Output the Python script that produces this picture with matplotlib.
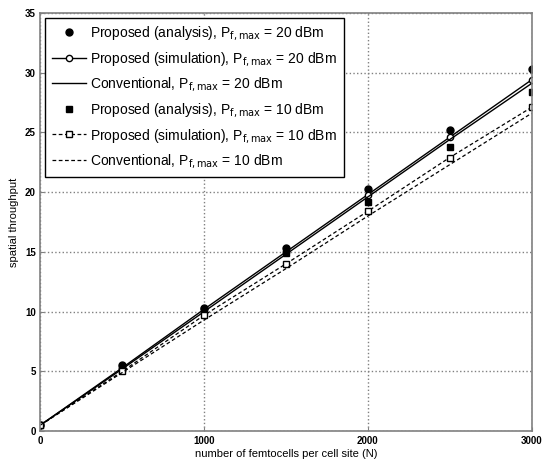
import matplotlib.pyplot as plt
import numpy as np

# number of femtocells per cell site
N = [0, 500, 1000, 1500, 2000, 2500, 3000]

# spatial throughput, P_f,max = 20 dBm
ana20 = [0.5, 5.5, 10.3, 15.3, 20.3, 25.2, 30.3]
sim20 = [0.5, 5.3, 10.2, 15.0, 19.8, 24.6, 29.4]
conv20 = [0.5, 5.2, 10.0, 14.8, 19.6, 24.4, 29.1]

# spatial throughput, P_f,max = 10 dBm
ana10 = [0.5, 5.3, 10.1, 14.9, 19.2, 23.8, 28.4]
sim10 = [0.5, 5.0, 9.7, 14.0, 18.4, 22.9, 27.1]
conv10 = [0.5, 4.9, 9.3, 13.6, 18.0, 22.3, 26.6]

plt.rcParams['font.family'] = ['Liberation Sans', 'DejaVu Sans']

fig = plt.figure(figsize=(5.42, 4.67), dpi=100)
ax = fig.add_axes([0.0747, 0.0771, 0.906, 0.895])

ax.plot(N, ana20, linestyle="none", marker="o", color="black", markersize=5,
        label=r"Proposed (analysis), P$_{\rm f,max}$ = 20 dBm")
ax.plot(N, sim20, linestyle="-", marker="o", color="black", markersize=4.5,
        markerfacecolor="white", linewidth=1.0,
        label=r"Proposed (simulation), P$_{\rm f,max}$ = 20 dBm")
ax.plot(N, conv20, linestyle="-", color="black", linewidth=1.0,
        label=r"Conventional, P$_{\rm f,max}$ = 20 dBm")
ax.plot(N, ana10, linestyle="none", marker="s", color="black", markersize=4.5,
        label=r"Proposed (analysis), P$_{\rm f,max}$ = 10 dBm")
ax.plot(N, sim10, linestyle="--", marker="s", color="black", markersize=4.5,
        markerfacecolor="white", linewidth=0.9, dashes=(3, 2),
        label=r"Proposed (simulation), P$_{\rm f,max}$ = 10 dBm")
ax.plot(N, conv10, linestyle="--", color="black", linewidth=0.9, dashes=(3, 2),
        label=r"Conventional, P$_{\rm f,max}$ = 10 dBm")

ax.set_xlim(0, 3000)
ax.set_ylim(0, 35)
ax.set_xticks([0, 1000, 2000, 3000])
ax.set_yticks(np.arange(0, 36, 5))
ax.tick_params(axis='both', labelsize=7, length=3, direction='in', color='gray')
for lab in ax.get_xticklabels() + ax.get_yticklabels():
    lab.set_fontweight('bold')
ax.grid(linestyle=":", color="gray", linewidth=1.0)
for s in ax.spines.values():
    s.set_color("gray")
    s.set_linewidth(1.2)

ax.set_xlabel("number of femtocells per cell site (N)", fontsize=8, labelpad=2)
ax.set_ylabel("spatial throughput", fontsize=8, labelpad=4)

leg = ax.legend(loc="upper left", fontsize=10, numpoints=1, fancybox=False,
                edgecolor="black", framealpha=1, handlelength=2.5,
                handletextpad=0.3, labelspacing=0.55, borderpad=0.45,
                borderaxespad=0.35)
leg.get_frame().set_linewidth(1.0)

plt.savefig("out.png", dpi=100)
